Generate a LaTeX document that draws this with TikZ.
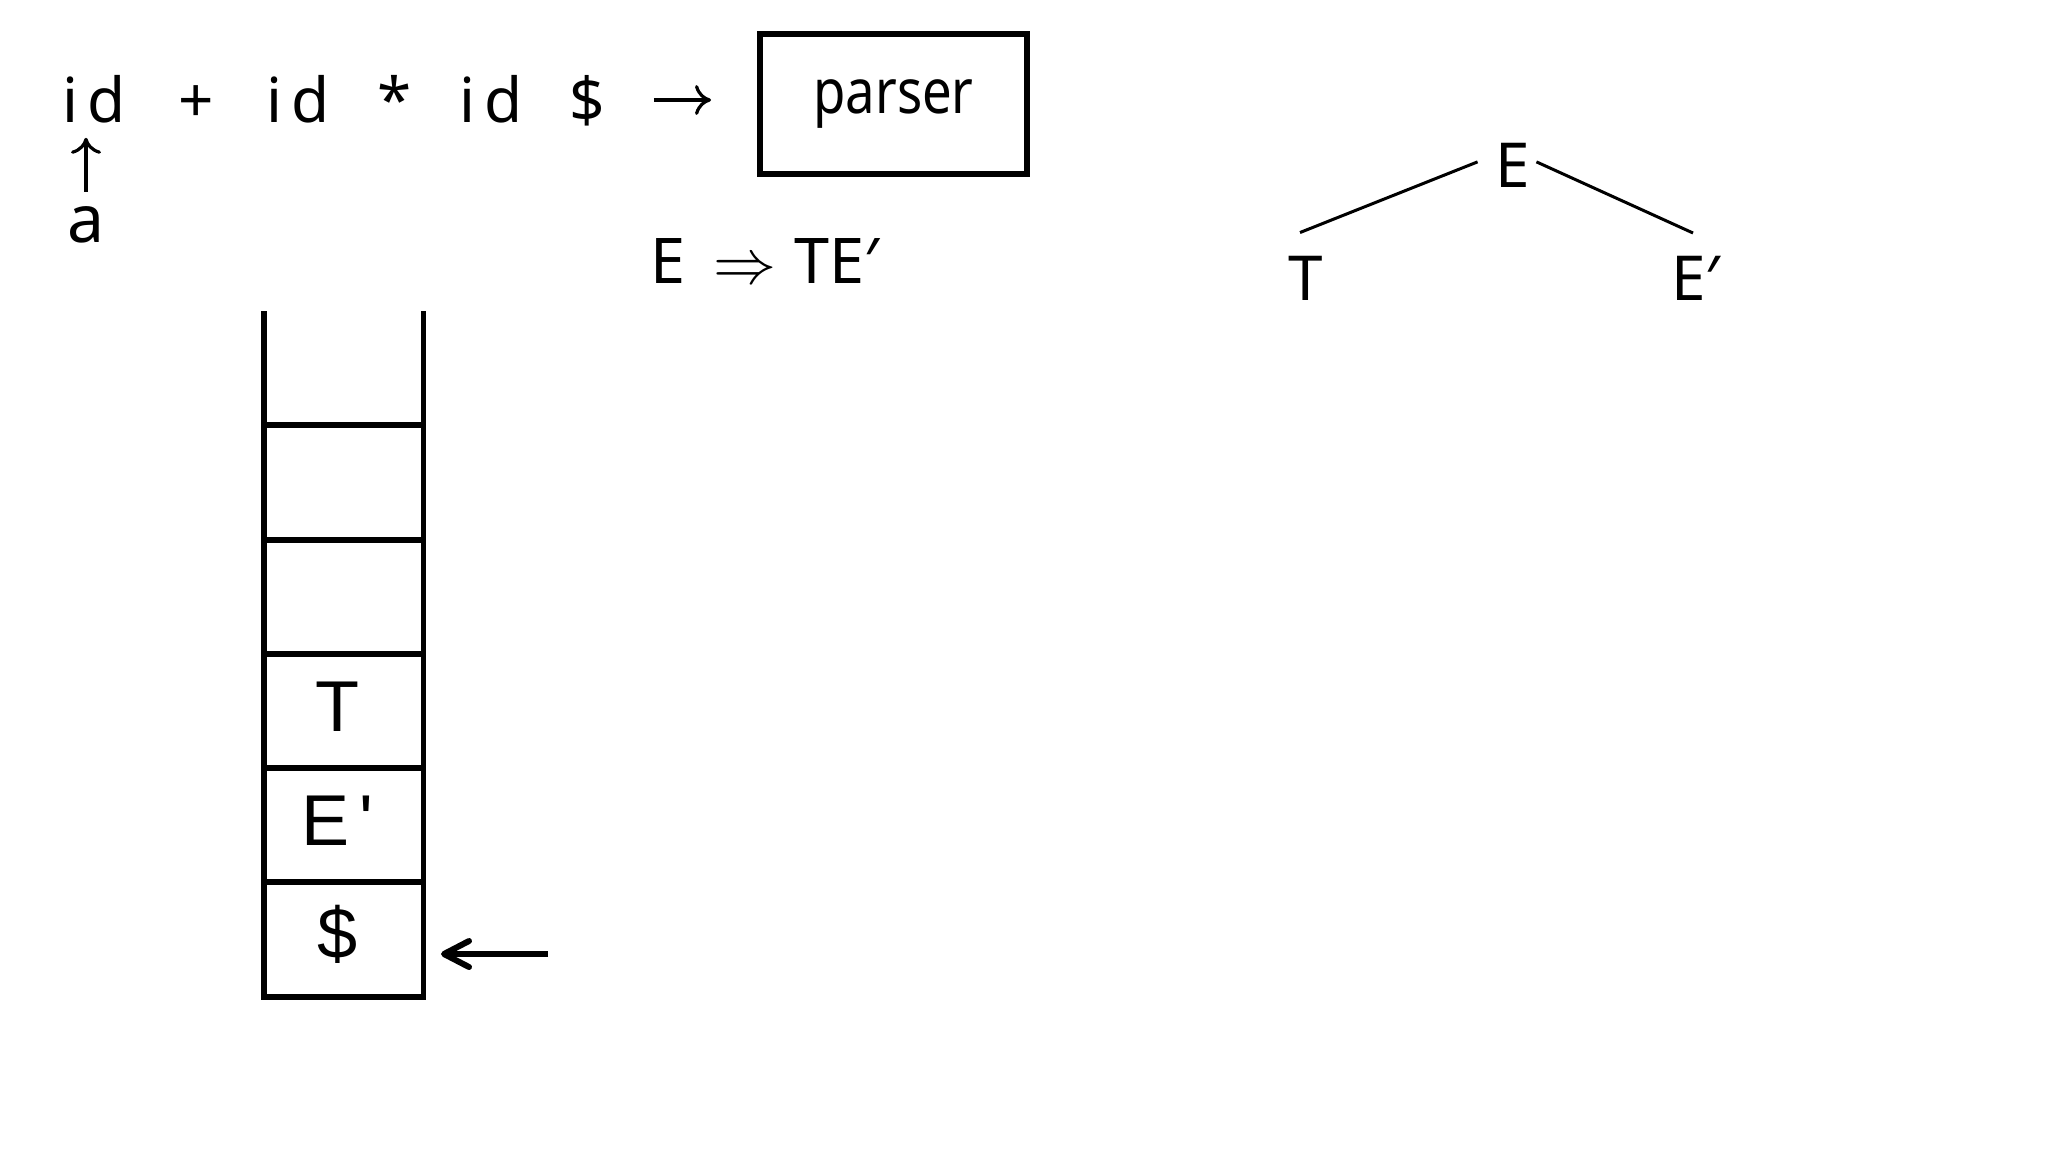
\documentclass[tikz,border=0pt]{standalone}
\usepackage{fontspec}
\usepackage{graphicx}
\setmainfont{Noto Sans}
\newfontfamily\arialf{Liberation Sans}
\usetikzlibrary{arrows.meta,calc}
\newcommand{\bigRA}{\scalebox{6.3}{\normalsize$\Rightarrow$}}
\begin{document}
\begin{tikzpicture}[x=1pt,y=-1pt,
  tok/.style={inner sep=0pt,anchor=base,font=\fontsize{62}{70}\selectfont},
  big/.style={inner sep=0pt,font=\fontsize{63}{70}\selectfont},
  tree/.style={inner sep=0pt,font=\fontsize{62}{70}\selectfont},
  stk/.style={inner sep=0pt,anchor=base,font=\arialf\fontsize{72}{80}\selectfont},
  thinarr/.style={line width=3.2pt,-{Computer Modern Rightarrow[length=16pt,width=30pt]}},
  bigarr/.style={line width=6pt,-{Straight Barb[length=25pt,width=26pt,round]}},
  stackline/.style={line width=5.5pt,line join=miter},
  treeline/.style={line width=3pt},
  box/.style={draw,line width=6pt,minimum width=267pt,minimum height=140pt,inner sep=0pt,font=\fontsize{62}{70}\selectfont}]
\useasboundingbox[fill=white] (0,0) rectangle (2048,1152);

% input string
\node[tok] (id1) at (94.5,122) {i\kern9pt d};
\node[tok] (plus) at (196,122) {+};
\node[tok] (id2) at (298,122) {i\kern9pt d};
\node[tok] (star) at (395,122) {*};
\node[tok] (id3) at (491,122) {i\kern9pt d};
\node[tok] (dollar) at (587,122) {\$};
\node[box] (parser) at (893.5,104) {\raisebox{5.5pt}{\scalebox{0.85}[1]{parser}}};
\coordinate (ay) at (0,100);
\draw[thinarr,shorten <=49pt,shorten >=46pt] (dollar.east |- ay) -- (parser.west |- ay);

% pointer a
\node[inner sep=0pt,anchor=base,font=\fontsize{66}{72}\selectfont] (a) at (86,242) {a};
\draw[thinarr,shorten <=14pt,shorten >=15pt] (a.north) -- (a.north |- id1.south);

% derivation
\node[big,anchor=base west] (deriv) at (650,283) {E\kern28pt\bigRA\kern18pt TE′};

% tree
\node[tree,anchor=base] (E) at (1513,187) {E};
\node[tree,anchor=base] (T) at (1305.5,300) {T};
\node[tree,anchor=base west] (Ep) at (1671,300) {E′};
\draw[treeline] ([xshift=-18pt,yshift=3pt]E.west) -- ([xshift=-5.5pt,yshift=23pt]T.north);
\draw[treeline] ([xshift=6pt,yshift=3pt]E.east) -- ([xshift=22pt,yshift=67pt]Ep.base west);

% stack
\draw[stackline] (264,311) -- (264,997) -- (423.5,997) -- (423.5,311);
\foreach \yy in {425,540,654,768,882}
  \draw[stackline] (264,\yy) -- (423.5,\yy);
\node[stk] (sT) at (337,731) {T};
\node[stk] (sE) at (337,845) {E\kern10pt'};
\node[stk] (sD) at (338,958) {\$};

\coordinate (ptrTail) at (548,954);
\coordinate (ptrTip) at (441,954);
\draw[bigarr] (ptrTail) -- (ptrTip);
\end{tikzpicture}
\end{document}
